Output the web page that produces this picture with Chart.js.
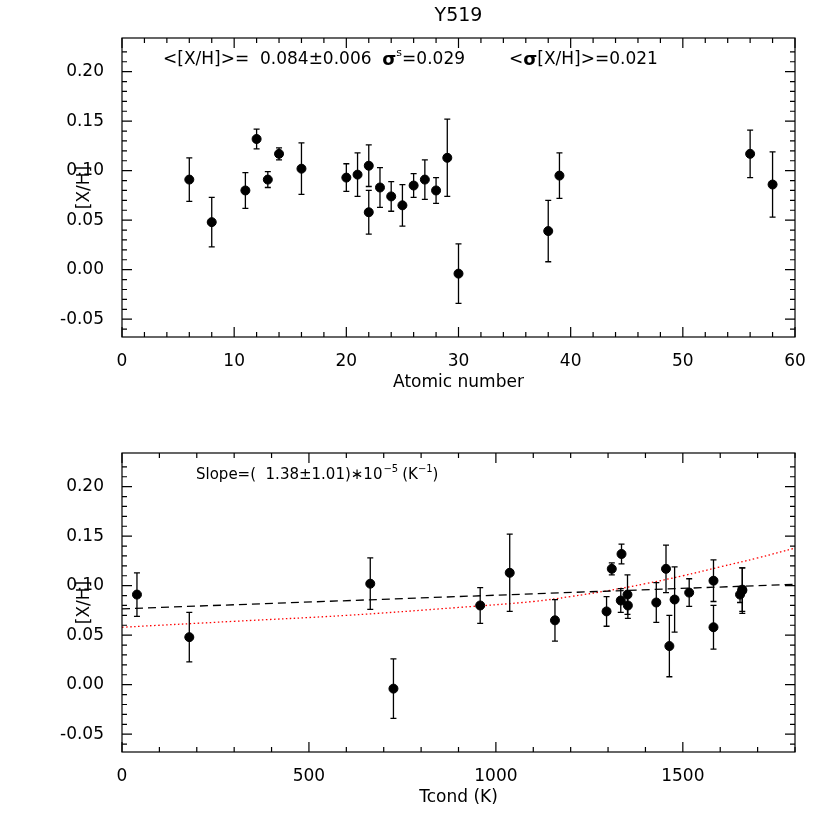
<!DOCTYPE html>
<html>
<head>
<meta charset="utf-8">
<script src="https://cdn.jsdelivr.net/npm/chart.js@4"></script>
<style>
  body { margin: 0; background: #fff; }
  .panel { position: absolute; left: 0; width: 830px; height: 415px; }
</style>
</head>
<body>
<div class="panel" style="top:0"><canvas id="topChart" width="830" height="415"></canvas></div>
<div class="panel" style="top:415px"><canvas id="bottomChart" width="830" height="415"></canvas></div>
<script>
// atomic number, [X/H], error
const atomicNumber = [6, 8, 11, 12, 13, 14, 16, 20, 21, 22, 22, 23, 24, 25, 26, 27, 28, 29, 30, 38, 39, 56, 58];
const abundance = [0.091, 0.048, 0.080, 0.132, 0.091, 0.117, 0.102, 0.093, 0.096, 0.105, 0.058, 0.083, 0.074, 0.065, 0.085, 0.091, 0.080, 0.113, -0.004, 0.039, 0.095, 0.117, 0.086];
const abundanceErr = [0.022, 0.025, 0.018, 0.010, 0.008, 0.006, 0.026, 0.014, 0.022, 0.021, 0.022, 0.020, 0.015, 0.021, 0.012, 0.020, 0.013, 0.039, 0.030, 0.031, 0.023, 0.024, 0.033];
// condensation temperature for the same elements
const tcond = [40, 180, 958, 1336, 1653, 1310, 664, 1517, 1659, 1582, 1582, 1429, 1296, 1158, 1334, 1352, 1353, 1037, 726, 1464, 1659, 1455, 1478];

const fitX = [0, 1800];
const fitY = [0.0766, 0.1014];
const curveX = [0, 300, 600, 900, 1100, 1200, 1300, 1400, 1500, 1600, 1700, 1800];
const curveY = [0.058, 0.064, 0.070, 0.078, 0.084, 0.089, 0.095, 0.102, 0.110, 0.119, 0.128, 0.138];

const yTicks = [-0.05, 0.00, 0.05, 0.10, 0.15, 0.20];
const topXTicks = [0, 10, 20, 30, 40, 50, 60];
const bottomXTicks = [0, 500, 1000, 1500];
const FONT = 'DejaVu Sans';

const errorBars = {
  id: 'errorBars',
  afterDatasetsDraw(chart) {
    const ctx = chart.ctx, xs = chart.scales.x, ys = chart.scales.y;
    const ds = chart.data.datasets[0];
    ctx.save();
    ctx.strokeStyle = '#000';
    ctx.lineWidth = 1.3;
    ds.data.forEach(p => {
      const x = xs.getPixelForValue(p.x);
      const y1 = ys.getPixelForValue(p.y - p.e), y2 = ys.getPixelForValue(p.y + p.e);
      ctx.beginPath();
      ctx.moveTo(x, y1); ctx.lineTo(x, y2);
      ctx.moveTo(x - 3, y1); ctx.lineTo(x + 3, y1);
      ctx.moveTo(x - 3, y2); ctx.lineTo(x + 3, y2);
      ctx.stroke();
    });
    ctx.restore();
  }
};

// draws a run of text pieces one after another; piece.dy raises superscripts
function drawRun(ctx, x, y, pieces) {
  pieces.forEach(p => {
    ctx.font = p.font;
    ctx.fillText(p.text, x, y + (p.dy || 0));
    x += ctx.measureText(p.text).width + (p.gap || 0);
  });
}

const frame = {
  id: 'frame',
  afterDraw(chart, args, opts) {
    const ctx = chart.ctx, a = chart.chartArea, xs = chart.scales.x, ys = chart.scales.y;
    ctx.save();
    ctx.strokeStyle = '#000';
    ctx.lineWidth = 1.2;
    ctx.strokeRect(a.left, a.top, a.right - a.left, a.bottom - a.top);
    ctx.beginPath();
    for (let v = xs.min; v <= xs.max + 1e-9; v += opts.xMinor) {
      const x = xs.getPixelForValue(v);
      const major = Math.abs(v / opts.xMajor - Math.round(v / opts.xMajor)) < 1e-6;
      const len = major ? 10 : 5;
      ctx.moveTo(x, a.bottom); ctx.lineTo(x, a.bottom - len);
      ctx.moveTo(x, a.top); ctx.lineTo(x, a.top + len);
    }
    for (let v = -0.06; v <= 0.23; v += 0.01) {
      const vv = Math.round(v * 100) / 100;
      if (vv < ys.min || vv > ys.max) continue;
      const y = ys.getPixelForValue(vv);
      const len = Math.abs(vv * 20 - Math.round(vv * 20)) < 1e-6 ? 10 : 5;
      ctx.moveTo(a.left, y); ctx.lineTo(a.left + len, y);
      ctx.moveTo(a.right, y); ctx.lineTo(a.right - len, y);
    }
    ctx.stroke();
    ctx.fillStyle = '#000';
    ctx.textBaseline = 'middle';
    ctx.font = `17px "${FONT}"`;
    ctx.textAlign = 'center';
    ctx.fillText(opts.xTitle, (a.left + a.right) / 2, a.bottom + 46);
    ctx.save();
    ctx.translate(85, (a.top + a.bottom) / 2);
    ctx.rotate(-Math.PI / 2);
    ctx.fillText('[X/H]', 0, 0);
    ctx.restore();
    if (opts.title) {
      ctx.font = `19px "${FONT}"`;
      ctx.fillText(opts.title, (a.left + a.right) / 2, 16);
    }
    ctx.textAlign = 'left';
    (opts.runs || []).forEach(r => drawRun(ctx, r.x, r.y, r.pieces));
    ctx.restore();
  }
};

function axes(xMax, xTicks) {
  return {
    x: {
      type: 'linear', min: 0, max: xMax,
      grid: { display: false }, border: { display: false },
      afterBuildTicks(s) { s.ticks = xTicks.map(v => ({ value: v })); },
      ticks: { color: '#000', font: { family: FONT, size: 17 }, padding: 6, maxRotation: 0,
               callback: v => String(v) },
      afterFit(s) { s.height = 78; }
    },
    y: {
      type: 'linear', min: -0.068, max: 0.234,
      grid: { display: false }, border: { display: false },
      afterBuildTicks(s) { s.ticks = yTicks.map(v => ({ value: v })); },
      ticks: { color: '#000', font: { family: FONT, size: 17 }, padding: 10,
               callback: v => v.toFixed(2) },
      afterFit(s) { s.width = 122; }
    }
  };
}

function points(xs) {
  return xs.map((x, i) => ({ x: x, y: abundance[i], e: abundanceErr[i] }));
}

const pointStyle = { pointRadius: 4.5, pointBackgroundColor: '#000', pointBorderColor: '#000', showLine: false };
const f17 = `17px "${FONT}"`, s17 = `bold 18px "${FONT}"`, sup = `11px "${FONT}"`;
const f15 = `15px "${FONT}"`, sup10 = `10px "${FONT}"`;

new Chart(document.getElementById('topChart'), {
  type: 'scatter',
  data: { datasets: [{ data: points(atomicNumber), ...pointStyle }] },
  options: {
    responsive: false, animation: false,
    layout: { padding: { top: 38, right: 35, left: 0, bottom: 0 } },
    plugins: {
      legend: { display: false }, tooltip: { enabled: false },
      frame: {
        xMajor: 10, xMinor: 2, title: 'Y519', xTitle: 'Atomic number',
        runs: [
          { x: 163, y: 60, pieces: [
            { text: '<[X/H]>=  0.084±0.006  ', font: f17 },
            { text: 'σ', font: s17 },
            { text: 's', font: sup, dy: -7 },
            { text: '=0.029', font: f17, gap: 44 },
            { text: '<', font: f17 },
            { text: 'σ', font: s17 },
            { text: '[X/H]>=0.021', font: f17 }
          ] }
        ]
      }
    },
    scales: axes(60, topXTicks)
  },
  plugins: [errorBars, frame]
});

new Chart(document.getElementById('bottomChart'), {
  type: 'scatter',
  data: { datasets: [
    { data: points(tcond), ...pointStyle },
    { data: fitX.map((x, i) => ({ x: x, y: fitY[i] })), showLine: true, pointRadius: 0,
      borderColor: '#000', borderWidth: 1.3, borderDash: [8, 5] },
    { data: curveX.map((x, i) => ({ x: x, y: curveY[i] })), showLine: true, pointRadius: 0,
      borderColor: '#ff0000', borderWidth: 1.3, borderDash: [1.5, 2.5], tension: 0.4 }
  ] },
  options: {
    responsive: false, animation: false,
    layout: { padding: { top: 38, right: 35, left: 0, bottom: 0 } },
    plugins: {
      legend: { display: false }, tooltip: { enabled: false },
      frame: {
        xMajor: 500, xMinor: 100, xTitle: 'Tcond (K)',
        runs: [
          { x: 196, y: 60, pieces: [
            { text: 'Slope=(  1.38±1.01)∗10', font: f15, gap: 1 },
            { text: '−5', font: sup10, dy: -6, gap: 4 },
            { text: '(K', font: f15 },
            { text: '−1', font: sup10, dy: -6 },
            { text: ')', font: f15 }
          ] }
        ]
      }
    },
    scales: axes(1800, bottomXTicks)
  },
  plugins: [errorBars, frame]
});
</script>
</body>
</html>
